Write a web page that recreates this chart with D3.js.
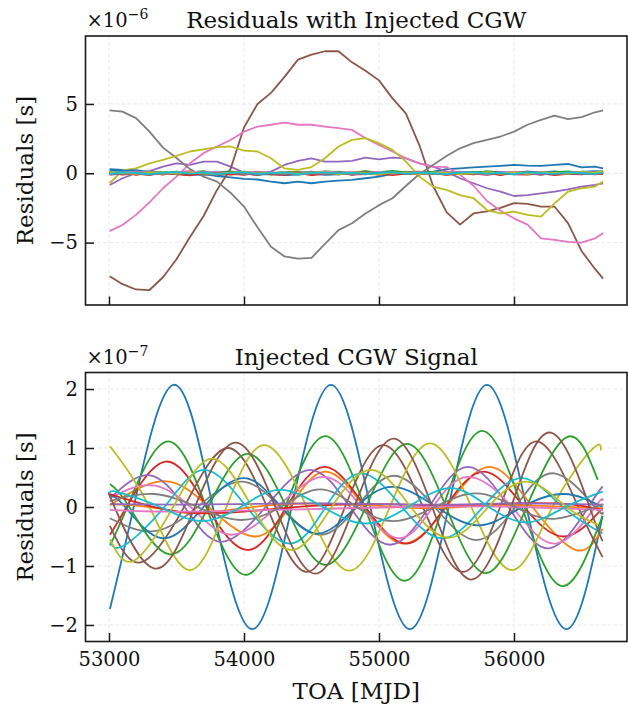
<!DOCTYPE html>
<html>
<head>
<meta charset="utf-8">
<script src="https://cdn.jsdelivr.net/npm/d3@7"></script>
<style>
body { margin: 0; background: #fff; }
text { font-family: "DejaVu Serif", serif; fill: #111; }
</style>
</head>
<body>
<script>
const palette = ["#1f77b4", "#ff7f0e", "#2ca02c", "#d62728", "#9467bd",
                 "#8c564b", "#e377c2", "#7f7f7f", "#bcbd22", "#17becf"];

const xTicks = [53000, 54000, 55000, 56000];
const resTicks = [-5, 0, 5];
const sigTicks = [-2, -1, 0, 1, 2];

// TOAs shared by the residual series (MJD)
const toaMjd = [53005, 53100, 53200, 53300, 53400, 53500, 53600, 53700, 53800, 53900,
                54000, 54100, 54200, 54300, 54400, 54500, 54600, 54700, 54800, 54900,
                55000, 55100, 55200, 55300, 55400, 55500, 55600, 55700, 55800, 55900,
                56000, 56100, 56200, 56300, 56400, 56500, 56600, 56660];

// residuals with injected CGW, units of 1e-6 s
const resP00 = [0.30, 0.25, 0.12, 0.05, 0.08, -0.05, -0.10, -0.05, -0.20, -0.30, -0.40, -0.45, -0.60, -0.72, -0.60, -0.72, -0.60, -0.53, -0.48, -0.36, -0.24, -0.05, 0.00, 0.05, 0.12, 0.29, 0.36, 0.43, 0.48, 0.53, 0.60, 0.55, 0.53, 0.60, 0.67, 0.43, 0.48, 0.36];
const resP01 = [0.10, -0.05, 0.12, 0.02, -0.10, 0.05, 0.15, -0.02, 0.08, -0.12, 0.03, 0.10, -0.05, 0.06, -0.08, 0.12, 0.00, -0.06, 0.09, 0.14, -0.03, 0.05, 0.11, -0.07, 0.02, 0.08, -0.04, 0.10, 0.06, -0.09, 0.04, 0.12, -0.02, 0.07, -0.05, 0.09, 0.03, 0.06];
const resP02 = [0.05, 0.12, -0.08, 0.04, 0.10, -0.02, 0.07, 0.15, -0.05, 0.02, 0.11, 0.06, -0.07, 0.09, 0.03, -0.04, 0.13, 0.08, 0.01, 0.16, 0.05, -0.06, 0.10, 0.12, 0.04, -0.03, 0.09, 0.02, 0.14, 0.07, -0.05, 0.11, 0.03, 0.08, -0.02, 0.12, 0.06, 0.10];
const resP03 = [-0.05, 0.08, -0.12, 0.03, -0.07, 0.10, -0.03, -0.11, 0.05, -0.08, 0.02, -0.14, 0.06, -0.04, 0.09, -0.10, -0.02, 0.07, -0.09, 0.04, -0.12, 0.01, -0.06, 0.08, -0.03, -0.10, 0.05, -0.07, 0.03, -0.13, 0.06, -0.02, -0.09, 0.04, -0.06, 0.02, -0.08, -0.03];
const resP04 = [-0.85, -0.36, 0.00, 0.15, 0.48, 0.72, 0.60, 0.84, 0.84, 0.48, 0.05, 0.00, 0.12, 0.60, 0.90, 1.08, 0.84, 0.84, 0.90, 1.13, 1.00, 1.13, 1.08, 0.72, 0.48, 0.12, -0.36, -0.72, -1.08, -1.33, -1.64, -1.57, -1.45, -1.33, -1.16, -0.96, -0.84, -0.72];
const resP05 = [-7.42, -8.00, -8.38, -8.42, -7.50, -6.20, -4.60, -3.10, -1.20, 0.30, 3.30, 5.00, 5.80, 6.95, 8.20, 8.55, 8.80, 8.80, 8.00, 7.40, 6.70, 5.40, 4.30, 2.00, -0.90, -2.80, -3.70, -2.90, -2.75, -2.50, -2.15, -2.20, -2.40, -2.40, -3.60, -5.60, -6.90, -7.60];
const resP06 = [-4.17, -3.73, -3.00, -2.10, -1.08, -0.24, 0.72, 1.45, 1.93, 2.40, 3.00, 3.37, 3.50, 3.66, 3.50, 3.50, 3.37, 3.25, 3.13, 2.53, 2.05, 1.57, 1.08, 0.72, 0.48, 0.45, -0.10, -0.90, -2.00, -2.70, -3.25, -3.70, -4.70, -4.80, -4.95, -5.00, -4.70, -4.30];
const resP07 = [4.53, 4.45, 3.98, 3.00, 1.85, 1.10, 0.30, -0.24, -0.60, -1.40, -2.40, -3.90, -5.30, -6.00, -6.15, -6.10, -5.10, -4.10, -3.60, -2.90, -2.30, -1.80, -0.90, -0.05, 0.60, 1.25, 1.80, 2.17, 2.40, 2.65, 3.00, 3.50, 3.85, 4.15, 3.90, 4.05, 4.40, 4.53];
const resP08 = [-0.72, 0.20, 0.36, 0.72, 0.96, 1.25, 1.57, 1.73, 1.88, 1.93, 1.64, 1.57, 1.08, 0.35, 0.25, 0.45, 1.08, 1.93, 2.41, 2.53, 2.17, 1.69, 0.84, -0.24, -0.96, -1.20, -1.57, -1.80, -2.65, -2.90, -2.77, -3.00, -3.13, -2.17, -1.33, -1.08, -0.96, -0.60];
const resP09 = [0.15, 0.05, 0.10, -0.03, 0.08, 0.02, -0.06, 0.07, 0.12, 0.01, -0.04, 0.09, 0.03, -0.08, 0.05, 0.11, -0.02, 0.06, 0.00, -0.07, 0.04, 0.10, -0.05, 0.03, 0.08, -0.01, 0.06, -0.06, 0.02, 0.09, -0.03, 0.05, 0.07, -0.04, 0.03, 0.08, 0.01, 0.04];
const resP10 = [0.25, 0.18, 0.22, 0.10, 0.05, -0.05, -0.12, -0.08, -0.15, -0.05, 0.02, -0.10, -0.06, -0.14, -0.09, -0.03, -0.11, -0.07, 0.00, -0.04, -0.08, 0.03, -0.02, 0.05, 0.08, 0.02, 0.10, 0.06, 0.12, 0.09, 0.04, 0.11, 0.07, 0.13, 0.05, 0.10, 0.15, 0.12];
const resP11 = [-0.08, 0.04, -0.03, 0.09, -0.06, 0.02, 0.07, -0.09, 0.03, 0.05, -0.04, 0.08, -0.07, 0.01, 0.10, -0.02, 0.06, -0.08, 0.04, -0.05, 0.09, 0.02, -0.06, 0.07, -0.03, 0.05, 0.01, -0.07, 0.08, 0.03, -0.04, 0.06, -0.09, 0.02, 0.05, -0.03, 0.07, 0.00];
const resP12 = [0.02, -0.06, 0.09, 0.05, -0.03, 0.11, 0.04, -0.05, 0.08, 0.13, 0.00, 0.06, -0.04, 0.10, 0.07, -0.02, 0.05, 0.12, 0.03, -0.06, 0.09, 0.18, 0.06, 0.02, 0.10, -0.03, 0.07, 0.04, 0.11, -0.01, 0.08, 0.05, -0.04, 0.09, 0.13, 0.02, 0.06, 0.15];
const resP13 = [0.06, -0.10, -0.02, -0.13, 0.04, -0.06, -0.15, 0.02, -0.09, -0.04, -0.12, 0.05, -0.07, -0.11, 0.01, -0.14, -0.05, 0.03, -0.10, -0.06, 0.00, -0.13, -0.03, -0.08, 0.04, -0.11, -0.05, -0.02, -0.12, 0.02, -0.07, -0.10, -0.01, -0.14, -0.04, -0.08, 0.03, -0.06];
const resP14 = [-0.12, -0.03, 0.05, -0.08, 0.02, -0.05, 0.06, -0.02, -0.09, 0.04, -0.06, 0.01, -0.04, 0.07, -0.07, 0.00, -0.03, 0.05, -0.10, 0.02, -0.05, 0.08, -0.01, -0.06, 0.03, -0.08, 0.04, -0.02, -0.07, 0.06, -0.04, 0.01, -0.09, 0.03, -0.05, 0.02, -0.03, 0.05];
const resP15 = [0.03, -0.05, 0.07, -0.02, 0.05, -0.08, 0.02, 0.06, -0.04, 0.08, -0.01, 0.04, -0.06, 0.03, 0.07, -0.03, 0.05, -0.07, 0.01, 0.06, -0.02, 0.04, -0.05, 0.08, 0.00, -0.04, 0.06, 0.02, -0.06, 0.05, -0.01, 0.07, -0.03, 0.04, -0.05, 0.03, 0.06, -0.02];
const resP16 = [-0.02, 0.06, 0.12, 0.04, -0.03, 0.08, 0.14, 0.05, 0.10, -0.01, 0.07, 0.11, 0.03, 0.09, -0.02, 0.06, 0.13, 0.04, 0.08, 0.02, 0.10, -0.03, 0.05, 0.09, 0.01, 0.07, 0.12, 0.03, -0.04, 0.06, 0.10, 0.02, 0.08, -0.01, 0.05, 0.09, 0.04, 0.07];
const resP17 = [0.04, -0.02, 0.06, 0.01, -0.05, 0.03, 0.07, -0.03, 0.02, 0.05, -0.04, 0.06, 0.00, -0.06, 0.04, 0.08, -0.02, 0.03, -0.07, 0.05, 0.01, -0.03, 0.06, 0.02, -0.05, 0.04, 0.07, -0.01, 0.03, -0.04, 0.05, 0.00, 0.06, -0.02, 0.04, -0.05, 0.02, 0.03];
const resP18 = [0.08, 0.02, -0.05, 0.04, 0.09, -0.02, 0.06, 0.01, -0.07, 0.05, 0.10, -0.03, 0.03, 0.07, -0.04, 0.02, 0.08, -0.06, 0.04, 0.00, -0.08, 0.05, 0.02, -0.04, 0.07, 0.03, -0.06, 0.01, 0.09, -0.02, 0.04, -0.05, 0.06, 0.02, -0.03, 0.08, 0.04, 0.12];
const resP19 = [-0.04, 0.06, 0.02, -0.07, 0.04, 0.09, -0.02, 0.05, -0.06, 0.03, 0.08, -0.04, 0.01, 0.06, -0.08, 0.03, 0.07, -0.01, 0.05, -0.05, 0.02, 0.09, -0.03, 0.04, 0.00, -0.06, 0.05, 0.08, -0.02, 0.03, -0.07, 0.06, 0.01, -0.04, 0.07, 0.02, -0.05, 0.03];

const residualSet = [resP00, resP01, resP02, resP03, resP04, resP05, resP06, resP07, resP08, resP09,
                     resP10, resP11, resP12, resP13, resP14, resP15, resP16, resP17, resP18, resP19];

// injected CGW signal, units of 1e-7 s, [MJD, value] at extrema and crossings
const sigP00 = [[53007, -1.73], [53183, 0], [53476, 2.07], [53769, 0], [54062, -2.07], [54353, 0], [54644, 2.07], [54936, 0], [55229, -2.07], [55515, 0], [55800, 2.07], [56092, 0], [56385, -2.07], [56656, -0.15]];
const sigP01 = [[53007, 0.03], [53408, 0.44], [53740, 0], [54074, -0.50], [54337, 0], [54600, 0.60], [54890, 0], [55180, -0.62], [55500, 0], [55817, 0.68], [56138, 0], [56459, -0.73], [56656, -0.37]];
const sigP02 = [[53007, -0.65], [53135, 0], [53427, 1.11], [53720, 0], [54012, -1.15], [54306, 0], [54600, 1.20], [54894, 0], [55188, -1.25], [55475, 0], [55763, 1.29], [56059, 0], [56355, -1.34], [56656, -0.15]];
const sigP03 = [[53007, -0.47], [53130, 0], [53420, 0.77], [53725, 0], [54030, -0.73], [54315, 0], [54600, 0.68], [54900, 0], [55205, -0.62], [55490, 0], [55780, 0.60], [56075, 0], [56370, -0.50], [56656, -0.02]];
const sigP04 = [[53007, 0.15], [53296, 0.54], [53560, 0], [53827, -0.59], [54160, 0], [54489, 0.63], [54785, 0], [55081, -0.64], [55370, 0], [55656, 0.68], [55960, 0], [56261, -0.70], [56551, 0], [56656, 0.35]];
const sigP05 = [[53007, -0.32], [53235, -0.94], [53556, 0], [53877, 1.00], [54170, 0], [54464, -1.10], [54748, 0], [55032, 1.05], [55325, 0], [55619, -1.10], [55897, 0], [56175, 1.11], [56475, 0], [56656, -0.85]];
const sigP06 = [[53007, 0.15], [53309, 0.37], [53605, 0], [53901, -0.47], [54245, 0], [54588, 0.51], [54870, 0], [55150, -0.53], [55400, 0], [55656, 0.51], [55985, 0], [56311, -0.62], [56600, 0], [56656, 0.10]];
const sigP07 = [[53007, -0.19], [53333, -0.41], [53655, 0], [53975, 0.43], [54270, 0], [54563, -0.47], [54835, 0], [55106, 0.53], [55412, 0], [55718, -0.56], [56010, 0], [56299, 0.57], [56600, 0], [56656, -0.08]];
const sigP08 = [[53007, 1.03], [53300, 0], [53593, -1.07], [53870, 0], [54150, 1.05], [54465, 0], [54780, -1.08], [55080, 0], [55378, 1.08], [55684, 0], [55990, -1.07], [56285, 0], [56580, 0.98], [56644, 0.96]];
const sigP09 = [[53007, -0.60], [53114, -0.65], [53410, 0], [53704, 0.63], [54020, 0], [54341, -0.62], [54605, 0], [54872, 0.57], [55170, 0], [55471, -0.53], [55770, 0], [56064, 0.49], [56360, 0], [56656, -0.45]];
const sigP10 = [[53007, 0.20], [53120, 0], [53395, -0.53], [53700, 0], [54000, 0.49], [54275, 0], [54550, -0.45], [54830, 0], [55106, 0.34], [55425, 0], [55743, -0.31], [56060, 0], [56373, 0.22], [56656, 0.00]];
const sigP11 = [[53007, 0.05], [53300, 0.00], [53600, -0.10], [53900, -0.05], [54300, 0.05], [54700, 0.05], [55000, 0.02], [55400, -0.02], [55800, 0.03], [56200, 0.02], [56656, -0.02]];
const sigP12 = [[53007, 0.39], [53150, 0], [53444, -0.80], [53735, 0], [54025, 0.90], [54312, 0], [54600, -0.98], [54902, 0], [55205, 1.07], [55497, 0], [55790, -1.12], [56093, 0], [56397, 1.19], [56620, 0.46]];
const sigP13 = [[53007, 0.22], [53300, 0.02], [53600, -0.10], [54000, -0.08], [54500, 0.02], [55000, 0.05], [55500, 0.03], [56000, 0.06], [56400, 0.05], [56656, -0.05]];
const sigP14 = [[53007, 0.05], [53500, 0.04], [54000, 0.05], [54500, 0.06], [55000, 0.05], [55500, 0.04], [56000, 0.06], [56656, 0.04]];
const sigP15 = [[53007, 0.19], [53041, 0], [53333, -1.04], [53636, 0], [53938, 1.09], [54232, 0], [54526, -1.13], [54816, 0], [55106, 1.16], [55394, 0], [55681, -1.23], [55978, 0], [56274, 1.26], [56560, 0], [56656, -0.58]];
const sigP16 = [[53007, -0.05], [53400, -0.08], [54000, -0.06], [54600, -0.03], [55200, 0.00], [55800, 0.01], [56300, -0.02], [56656, -0.05]];
const sigP17 = [[53007, 0.10], [53333, 0.22], [53655, 0], [53975, -0.22], [54270, 0], [54563, 0.30], [54835, 0], [55106, -0.24], [55412, 0], [55718, 0.23], [56010, 0], [56299, -0.20], [56600, 0], [56656, 0.03]];
const sigP18 = [[53007, -0.55], [53185, -0.91], [53475, 0], [53765, 0.82], [54060, 0], [54355, -0.73], [54650, 0], [54945, 0.63], [55235, 0], [55525, -0.52], [55810, 0], [56100, 0.43], [56390, 0], [56620, -0.30]];
const sigP19 = [[53007, 0.23], [53070, 0.25], [53380, 0], [53680, -0.24], [53975, 0], [54266, 0.29], [54585, 0], [54900, -0.28], [55215, 0], [55530, 0.32], [55815, 0], [56100, -0.26], [56380, 0], [56656, 0.26]];

const signalSet = [sigP00, sigP01, sigP02, sigP03, sigP04, sigP05, sigP06, sigP07, sigP08, sigP09,
                   sigP10, sigP11, sigP12, sigP13, sigP14, sigP15, sigP16, sigP17, sigP18, sigP19];

const W = 628, H = 704;
const left = 85.5, right = 627;

const svg = d3.select("body").append("svg")
    .attr("width", W)
    .attr("height", H);

const x = d3.scaleLinear()
    .domain([52826, 56837])
    .range([left, right]);

function drawPanel(top, bottom, yDomain, yTicks, title, expo, lines, curve, showX) {
    const y = d3.scaleLinear().domain(yDomain).range([bottom, top]);
    const g = svg.append("g");

    // grid
    g.selectAll(".vgrid").data(xTicks).enter().append("line")
        .attr("x1", d => x(d)).attr("x2", d => x(d))
        .attr("y1", top).attr("y2", bottom)
        .attr("stroke", "#e3e3e3").attr("stroke-width", 0.8)
        .attr("stroke-dasharray", "3.5,2.5");
    g.selectAll(".hgrid").data(yTicks).enter().append("line")
        .attr("x1", left).attr("x2", right)
        .attr("y1", d => y(d)).attr("y2", d => y(d))
        .attr("stroke", "#e3e3e3").attr("stroke-width", 0.8)
        .attr("stroke-dasharray", "3.5,2.5");

    const line = d3.line()
        .x(d => x(d[0]))
        .y(d => y(d[1]))
        .curve(curve);

    g.selectAll(".series").data(lines).enter().append("path")
        .attr("d", d => line(d))
        .attr("fill", "none")
        .attr("stroke", (d, i) => palette[i % 10])
        .attr("stroke-width", 1.8)
        .attr("stroke-linejoin", "round");

    // frame
    g.append("rect")
        .attr("x", left).attr("y", top)
        .attr("width", right - left).attr("height", bottom - top)
        .attr("fill", "none").attr("stroke", "#1a1a1a").attr("stroke-width", 1.6);

    const ax = g.append("g")
        .attr("transform", "translate(0," + bottom + ")")
        .call(d3.axisBottom(x).tickValues(xTicks).tickSize(-8.5).tickPadding(10.5)
            .tickFormat(showX ? d3.format("d") : () => ""));
    const ay = g.append("g")
        .attr("transform", "translate(" + left + ",0)")
        .call(d3.axisLeft(y).tickValues(yTicks).tickSize(-8.5).tickPadding(7.5)
            .tickFormat(d3.format("d")));
    [ax, ay].forEach(a => {
        a.select(".domain").remove();
        a.selectAll(".tick line").attr("stroke", "#1a1a1a").attr("stroke-width", 1.5);
        a.selectAll(".tick text")
            .style("font-family", "'DejaVu Serif', serif")
            .style("font-size", "19.5px")
            .attr("fill", "#111");
    });

    g.append("text")
        .attr("x", (left + right) / 2)
        .attr("y", top - 8)
        .attr("text-anchor", "middle")
        .style("font-size", "23px")
        .text(title);

    const off = g.append("text")
        .attr("x", left + 1)
        .attr("y", top - 9)
        .style("font-size", "19.5px");
    off.append("tspan").text("\u00d710");
    off.append("tspan").attr("dy", -8).style("font-size", "14px").text(expo);

    g.append("text")
        .attr("transform", "translate(33," + ((top + bottom) / 2) + ") rotate(-90)")
        .attr("text-anchor", "middle")
        .style("font-size", "23px")
        .text("Residuals [s]");
}

drawPanel(36, 305, [-9.5, 9.9], resTicks, "Residuals with Injected CGW", "\u22126",
    residualSet.map(s => d3.zip(toaMjd, s)), d3.curveLinear, false);
drawPanel(372.5, 641.5, [-2.28, 2.28], sigTicks, "Injected CGW Signal", "\u22127",
    signalSet, d3.curveNatural, true);

svg.append("text")
    .attr("x", (left + right) / 2)
    .attr("y", 699)
    .attr("text-anchor", "middle")
    .style("font-size", "23px")
    .text("TOA [MJD]");
</script>
</body>
</html>
